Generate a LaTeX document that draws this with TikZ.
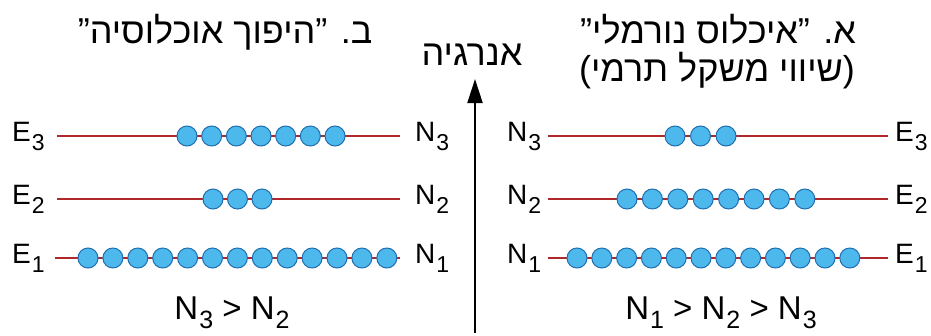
\documentclass[tikz,border=0pt]{standalone}
\usepackage{fontspec}
\setmainfont{Liberation Sans}
\newfontfamily\hebfont[Script=Hebrew]{Liberation Sans}
\TeXXeTstate=1
\usetikzlibrary{arrows.meta}
\definecolor{lvlred}{HTML}{B0282A}
\definecolor{atomfill}{HTML}{4DB8EC}
\definecolor{atomedge}{HTML}{1F6FB0}
\newcommand{\lowsub}[1]{\kern1pt\raisebox{-9pt}{\fontsize{23}{24}\selectfont #1}}
\newcommand{\bigsub}[1]{\kern1pt\raisebox{-9pt}{\fontsize{25}{26}\selectfont #1}}
\tikzset{
  lvl/.style={draw=lvlred, line width=2pt},
  atom/.style={circle, draw=atomedge, fill=atomfill, line width=1pt, minimum size=20pt, inner sep=0pt},
  lbl/.style={font=\fontsize{28}{30}\selectfont, inner sep=0pt},
  ineq/.style={font=\fontsize{33}{35}\selectfont, inner sep=0pt},
  heb/.style={font=\hebfont\fontsize{36}{38}\selectfont, inner sep=0pt},
  axis/.style={draw=black, line width=2pt, -{Triangle[width=15pt,length=24pt]}}
}
\begin{document}
\begin{tikzpicture}[x=1pt,y=-1pt]
\useasboundingbox (0,0) rectangle (931,335);
\fill[white] (0,0) rectangle (931,335);
% titles
\node[heb, anchor=base] (tleft) at (225,43) {\beginR ב. ”היפוך אוכלוסיה”\endR};
\node[heb, anchor=base] (tright1) at (718,43) {\beginR א. ”איכלוס נורמלי”\endR};
\node[heb, anchor=base] (tright2) at (717,81) {\beginR (שיווי משקל תרמי)\endR};
\node[heb, anchor=base] (energy) at (472,65) {\beginR אנרגיה\endR};
% energy axis
\coordinate (axbot) at (475,333);
\coordinate (axtop) at (475,79);
\draw[axis] (axbot) -- (axtop);
% left panel
\node[lbl, anchor=base west] (LE3) at (12,141) {E\lowsub{3}};
\node[lbl, anchor=base west] (LE2) at (12,204) {E\lowsub{2}};
\node[lbl, anchor=base west] (LE1) at (12,263) {E\lowsub{1}};
\node[lbl, anchor=base west] (LN3) at (415,141) {N\lowsub{3}};
\node[lbl, anchor=base west] (LN2) at (415,204) {N\lowsub{2}};
\node[lbl, anchor=base west] (LN1) at (415,263) {N\lowsub{1}};
\coordinate (la3) at (57,136); \coordinate (lb3) at (400,136);
\coordinate (la2) at (57,199); \coordinate (lb2) at (400,199);
\coordinate (la1) at (55,258); \coordinate (lb1) at (400,258);
\draw[lvl] (la3) -- (lb3);
\draw[lvl] (la2) -- (lb2);
\draw[lvl] (la1) -- (lb1);
\foreach \i in {0,...,6} \node[atom] (lA3-\i) at (187+24.67*\i,136) {};
\foreach \i in {0,...,2} \node[atom] (lA2-\i) at (213+24.5*\i,199) {};
\foreach \i in {0,...,12} \node[atom] (lA1-\i) at (88+24.9*\i,258) {};
\node[ineq, anchor=base] (lineq) at (232,319) {N\bigsub{3} > N\bigsub{2}};
% right panel
\node[lbl, anchor=base west] (RN3) at (507,141) {N\lowsub{3}};
\node[lbl, anchor=base west] (RN2) at (507,204) {N\lowsub{2}};
\node[lbl, anchor=base west] (RN1) at (507,263) {N\lowsub{1}};
\node[lbl, anchor=base west] (RE3) at (895,141) {E\lowsub{3}};
\node[lbl, anchor=base west] (RE2) at (895,204) {E\lowsub{2}};
\node[lbl, anchor=base west] (RE1) at (895,263) {E\lowsub{1}};
\coordinate (ra3) at (548,136); \coordinate (rb3) at (888,136);
\coordinate (ra2) at (548,199); \coordinate (rb2) at (888,199);
\coordinate (ra1) at (548,258); \coordinate (rb1) at (888,258);
\draw[lvl] (ra3) -- (rb3);
\draw[lvl] (ra2) -- (rb2);
\draw[lvl] (ra1) -- (rb1);
\foreach \i in {0,...,2} \node[atom] (rA3-\i) at (675+25.5*\i,136) {};
\foreach \i in {0,...,7} \node[atom] (rA2-\i) at (627+25.4*\i,199) {};
\foreach \i in {0,...,11} \node[atom] (rA1-\i) at (577+24.8*\i,258) {};
\node[ineq, anchor=base] (rineq) at (721,319) {N\bigsub{1} > N\bigsub{2} > N\bigsub{3}};
\end{tikzpicture}
\end{document}
